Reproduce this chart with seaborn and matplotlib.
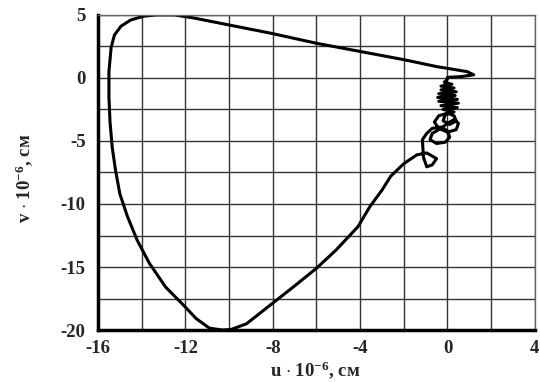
import numpy as np
import pandas as pd
import seaborn as sns
import matplotlib.pyplot as plt

# trajectory (u, v in 1e-6 cm)
u = [0.0, 0.6, 1.2, 0.9, -0.5, -2.0, -4.0, -6.0, -8.1, -10.0, -11.6, -12.5, -13.3,
     -13.9, -14.5, -14.95, -15.25, -15.4, -15.5, -15.5, -15.45, -15.35, -15.2, -15.0,
     -14.65, -14.2, -13.65, -12.9, -12.1, -11.5, -10.9, -10.3, -9.9, -9.2, -8.1, -7.0,
     -6.0, -5.1, -4.1, -3.55, -3.0, -2.6, -2.0, -1.4, -0.95, -0.5, -0.7, -0.95, -1.1,
     -1.15, -0.95, -0.7, -0.3, 0.0, 0.1, -0.1, -0.5, -0.8, -0.7, -0.3, 0.0, 0.3, 0.5,
     0.4, 0.0, -0.4, -0.6, -0.4, 0.0, 0.3, 0.4, 0.1, -0.2, -0.1, 0.3, -0.2, 0.45, -0.3,
     0.5, -0.4, 0.45, -0.45, 0.35, -0.4, 0.4, -0.3, 0.3, -0.3, 0.2, -0.15, 0.0]
v = [0.05, 0.1, 0.25, 0.5, 0.9, 1.45, 2.1, 2.75, 3.55, 4.2, 4.75, 5.0, 5.0,
     4.9, 4.6, 4.1, 3.4, 2.4, 0.5, -1.5, -3.5, -5.5, -7.3, -9.2,
     -11.0, -12.9, -14.7, -16.6, -18.0, -19.1, -19.85, -20.0, -19.95, -19.5, -18.0, -16.5,
     -15.1, -13.65, -11.8, -10.2, -8.9, -7.8, -6.8, -6.1, -5.95, -6.4, -6.9, -7.05, -6.3,
     -4.9, -4.4, -4.0, -3.9, -4.2, -4.7, -5.1, -5.2, -4.9, -4.4, -4.0, -3.6, -3.3, -3.6,
     -4.1, -4.3, -4.0, -3.5, -3.0, -2.8, -3.0, -3.4, -3.7, -3.4, -2.9, -2.7, -2.5, -2.35,
     -2.2, -2.0, -1.85, -1.7, -1.55, -1.4, -1.25, -1.1, -0.95, -0.8, -0.65, -0.5, -0.35, -0.1]

x_ticks = [-16, -12, -8, -4, 0, 4]
y_ticks = [-20, -15, -10, -5, 0, 5]

df = pd.DataFrame({'u': u, 'v': v})

sns.set_theme(style='white')
plt.rcParams['font.family'] = ['Liberation Serif', 'DejaVu Serif']
plt.rcParams['font.weight'] = 'bold'
plt.rcParams['axes.unicode_minus'] = False
plt.rcParams['mathtext.fontset'] = 'custom'
plt.rcParams['mathtext.rm'] = 'Liberation Serif:bold'
plt.rcParams['mathtext.bf'] = 'Liberation Serif:bold'
plt.rcParams['mathtext.it'] = 'Liberation Serif:bold'

fig = plt.figure(figsize=(5.4, 3.82), dpi=100)
ax = fig.add_axes([0.1815, 0.136, 0.809, 0.825])

sns.lineplot(data=df, x='u', y='v', sort=False, estimator=None,
             color='black', linewidth=2.2, ax=ax)

ax.set_xlim(-16, 4)
ax.set_ylim(-20, 5)
ax.set_xticks(np.arange(-16, 5, 2), minor=True)
ax.set_yticks(np.arange(-20, 5.1, 2.5), minor=True)
ax.set_xticks(x_ticks)
ax.set_yticks(y_ticks)
ax.grid(True, which='both', color='#333333', linewidth=1.0)
ax.tick_params(which='both', length=0)
ax.tick_params(axis='y', pad=9, labelsize=13.5)
ax.tick_params(axis='x', pad=7, labelsize=13.5)
for lab in ax.get_xticklabels() + ax.get_yticklabels():
    lab.set_fontweight('bold')

for side in ['top', 'right']:
    ax.spines[side].set_color('#666666')
    ax.spines[side].set_linewidth(1.0)
for side in ['left', 'bottom']:
    ax.spines[side].set_color('black')
    ax.spines[side].set_linewidth(2.5)

ax.set_xlabel(r'u $\cdot$ 10$^{-6}$, см', fontsize=13.5, fontweight='bold')
ax.set_ylabel(r'v $\cdot$ 10$^{-6}$, см', fontsize=13.5, fontweight='bold')
ax.xaxis.set_label_coords(0.497, -0.092)
ax.yaxis.set_label_coords(-0.145, 0.48)

fig.savefig('out.png', dpi=100)
